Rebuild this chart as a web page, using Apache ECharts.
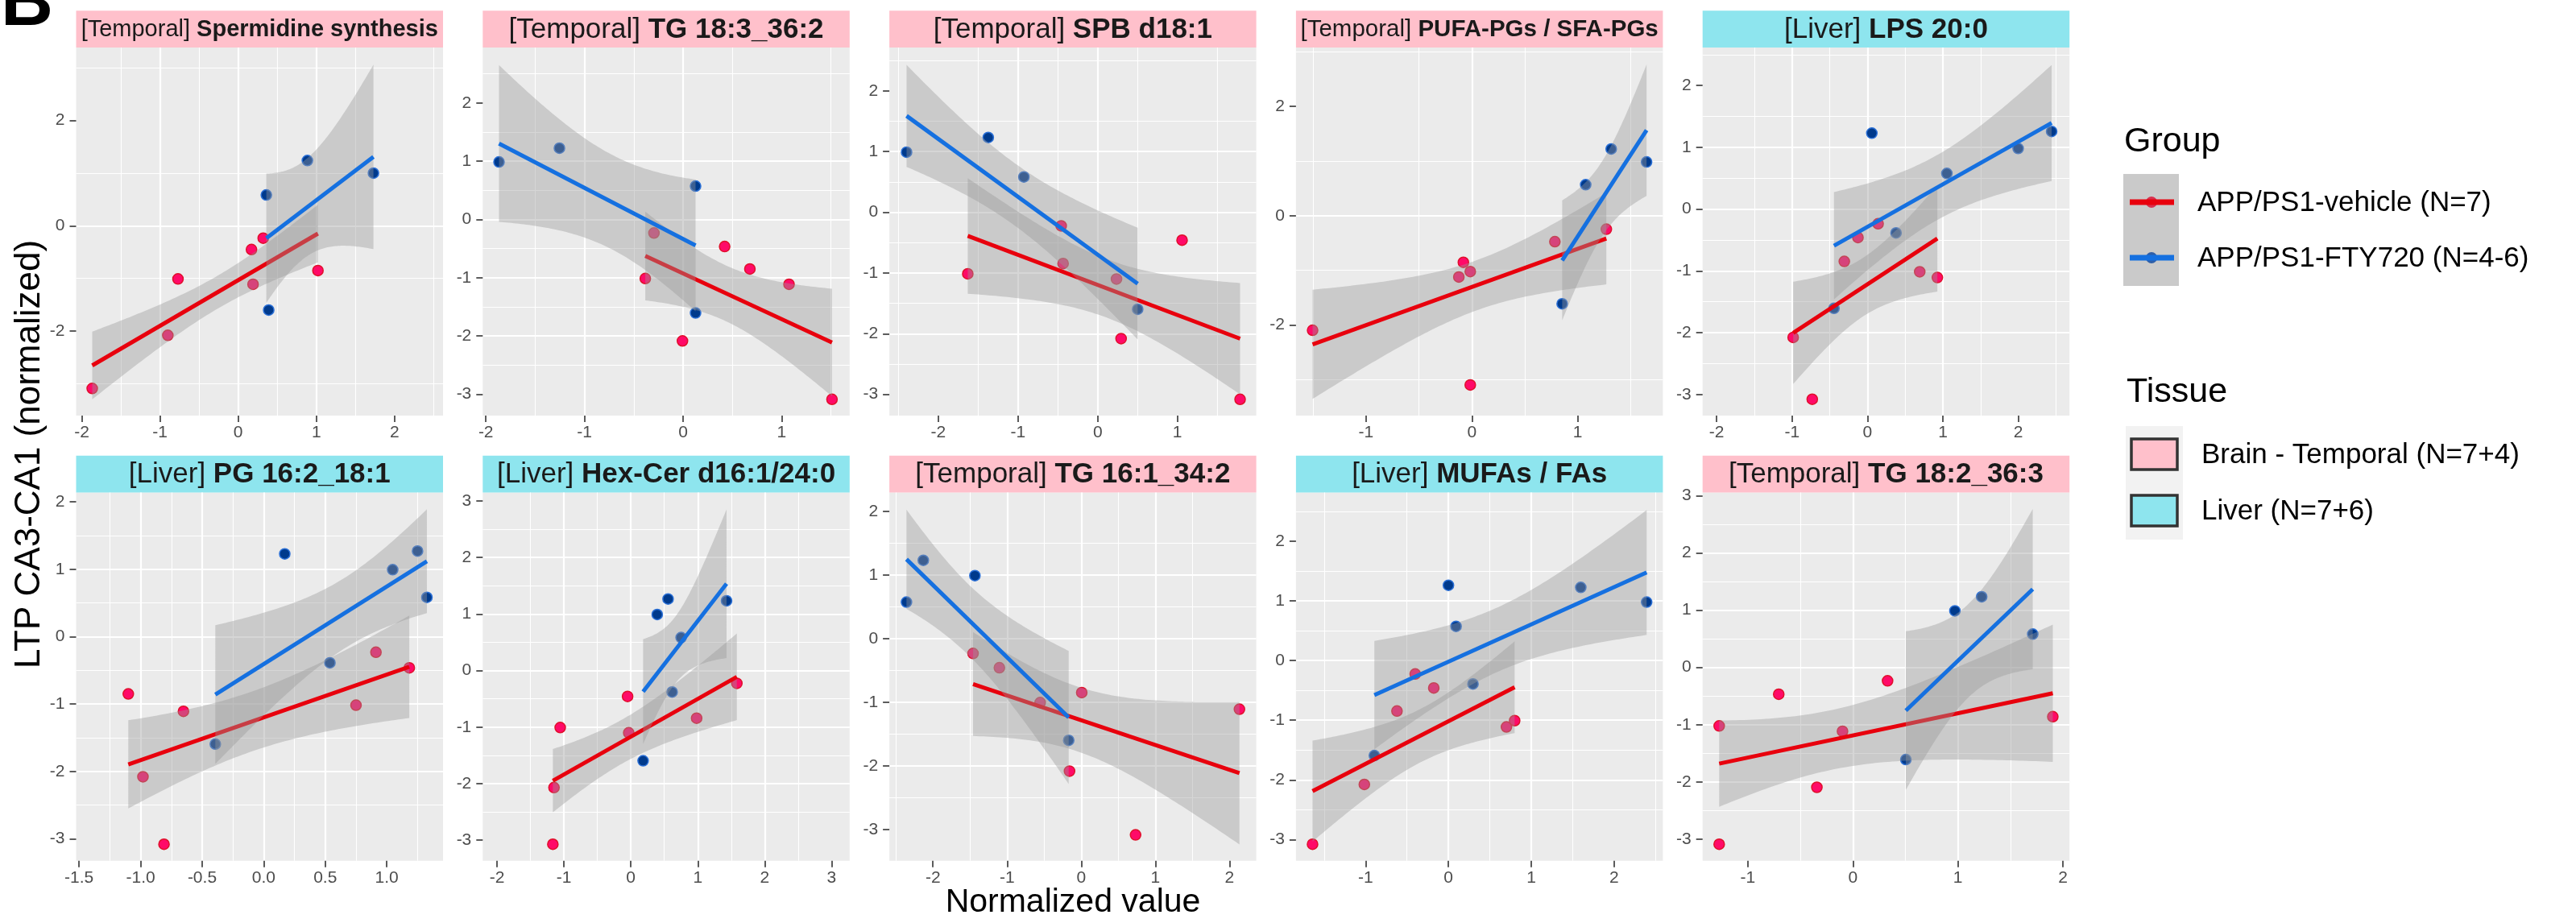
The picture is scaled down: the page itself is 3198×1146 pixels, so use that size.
<!DOCTYPE html>
<html>
<head>
<meta charset="utf-8">
<script src="https://cdn.jsdelivr.net/npm/echarts@6/dist/echarts.min.js"></script>
<style>
    html, body { margin: 0; padding: 0; background: #ffffff; }
    #chart { width: 3198px; height: 1146px; }
</style>
</head>
<body>
<div id="chart"></div>
<script>
// ---- data ----
var groupNames = ['APP/PS1-vehicle (N=7)', 'APP/PS1-FTY720 (N=4-6)'];
var tissueNames = ['Brain - Temporal (N=7+4)', 'Liver (N=7+6)'];

var panelTissue = ['Temporal', 'Temporal', 'Temporal', 'Temporal', 'Liver',
                   'Liver', 'Liver', 'Temporal', 'Liver', 'Temporal'];
var panelName = ['Spermidine synthesis', 'TG 18:3_36:2', 'SPB d18:1', 'PUFA-PGs / SFA-PGs', 'LPS 20:0',
                 'PG 16:2_18:1', 'Hex-Cer d16:1/24:0', 'TG 16:1_34:2', 'MUFAs / FAs', 'TG 18:2_36:3'];

// normalized value (x) and LTP (y), vehicle group
var vehicleX = [
    [-1.867, -0.90, -0.77, 0.17, 0.19, 0.32, 1.02],
    [-0.383, -0.295, -0.006, 0.422, 0.678, 1.075, 1.511],
    [-1.630, -0.458, -0.434, 0.236, 0.294, 1.059, 1.787],
    [-1.504, -0.123, -0.080, -0.015, -0.015, 0.784, 1.270],
    [-0.985, -0.732, -0.307, -0.126, 0.141, 0.693, 0.927],
    [-1.100, -0.981, -0.810, -0.652, 0.750, 0.912, 1.183],
    [-1.166, -1.149, -1.056, -0.049, -0.032, 0.983, 1.584],
    [-1.459, -1.104, -0.554, -0.158, 0.007, 0.733, 2.134],
    [-1.640, -1.015, -0.621, -0.401, -0.177, 0.700, 0.799],
    [-1.273, -1.273, -0.706, -0.343, -0.099, 0.330, 1.903]
];
var vehicleY = [
    [-3.09, -2.08, -1.01, -0.45, -1.11, -0.235, -0.85],
    [-1.012, -0.232, -2.083, -0.464, -0.849, -1.111, -3.085],
    [-1.014, -0.223, -0.844, -1.100, -2.081, -0.460, -3.081],
    [-2.095, -1.121, -0.853, -1.021, -3.095, -0.474, -0.247],
    [-2.076, -3.077, -0.847, -0.461, -0.237, -1.015, -1.108],
    [-0.849, -2.078, -3.079, -1.108, -1.016, -0.231, -0.462],
    [-3.071, -2.069, -1.007, -0.457, -1.101, -0.842, -0.226],
    [-0.230, -0.455, -1.003, -2.079, -0.846, -3.082, -1.106],
    [-3.079, -2.077, -0.846, -0.224, -0.459, -1.112, -1.007],
    [-1.023, -3.090, -0.468, -2.095, -1.115, -0.234, -0.860]
];
// FTY720 group
var ftyX = [
    [0.36, 0.39, 0.885, 1.73],
    [-1.867, -1.254, 0.127, 0.127],
    [-2.398, -1.373, -0.926, 0.502],
    [0.853, 1.075, 1.316, 1.650],
    [-0.444, 0.058, 0.379, 1.053, 1.998, 2.442],
    [-0.393, 0.171, 0.538, 1.048, 1.250, 1.326],
    [0.183, 0.394, 0.556, 0.617, 0.751, 1.430],
    [-2.357, -2.130, -1.434, -0.169],
    [-0.894, 0.0, 0.092, 0.296, 1.597, 2.392],
    [0.504, 0.971, 1.226, 1.712]
];
var ftyY = [
    [0.585, -1.60, 1.24, 1.0],
    [0.987, 1.224, 0.573, -1.604],
    [0.991, 1.232, 0.583, -1.597],
    [-1.611, 0.568, 1.221, 0.984],
    [-1.606, 1.229, -0.386, 0.577, 0.982, 1.257],
    [-1.593, 1.228, -0.388, 0.993, 1.270, 0.582],
    [-1.596, 0.991, 1.266, -0.380, 0.583, 1.233],
    [0.577, 1.233, 0.993, -1.595],
    [-1.592, 1.263, 0.574, -0.391, 1.227, 0.981],
    [-1.610, 0.990, 1.235, 0.582]
];

// axis ranges and break steps of each panel
var xLimits = [[-2.073, 2.620], [-2.032, 1.690], [-2.614, 1.99], [-1.661, 1.804], [-2.186, 2.679],
               [-1.524, 1.457], [-2.214, 3.270], [-2.588, 2.361], [-1.840, 2.588], [-1.431, 2.062]];
var yLimits = [[-3.607, 3.388], [-3.366, 2.952], [-3.351, 2.716], [-3.658, 3.079], [-3.343, 2.616],
               [-3.324, 2.138], [-3.363, 3.148], [-3.488, 2.299], [-3.356, 2.818], [-3.379, 3.058]];
var xStep = [1, 1, 1, 1, 1, 0.5, 1, 1, 1, 1];
var yStep = [2, 1, 1, 2, 1, 1, 1, 1, 1, 1];

// ---- look ----
var FONT = 'Liberation Sans, Arial, sans-serif';
var RED = '#E8000D', BLUE = '#1570E0';
var TISSUE_FILL = { Temporal: '#FFC0CB', Liver: '#8EE5EE' };
var stripFont = [29, 35, 35, 29.5, 35, 35, 35, 35, 35, 35];
var PANEL_W = 455.5, PANEL_H = 457.2, COL_X0 = 94.5, COL_PITCH = 504.8;
var ROW_TOP = [58.9, 611.5], STRIP_H = 45.7;
var BAND_MULT = 1.4;

function lmFit(xs, ys) {
    var n = xs.length, mx = 0, my = 0, sxx = 0, sxy = 0, sse = 0, i;
    for (i = 0; i < n; i++) { mx += xs[i] / n; my += ys[i] / n; }
    for (i = 0; i < n; i++) {
        sxx += (xs[i] - mx) * (xs[i] - mx);
        sxy += (xs[i] - mx) * (ys[i] - my);
    }
    var b = sxy / sxx, a = my - b * mx;
    for (i = 0; i < n; i++) sse += Math.pow(ys[i] - a - b * xs[i], 2);
    return {
        a: a, b: b, n: n, mx: mx, sxx: sxx, s: Math.sqrt(sse / (n - 2)),
        xmin: Math.min.apply(null, xs), xmax: Math.max.apply(null, xs)
    };
}

function fitLine(f) {
    return [[f.xmin, f.a + f.b * f.xmin], [f.xmax, f.a + f.b * f.xmax]];
}

function fitBand(f) {
    var out = [];
    for (var k = 0; k < 80; k++) {
        var x = f.xmin + (f.xmax - f.xmin) * k / 79;
        var yh = f.a + f.b * x;
        var se = f.s * Math.sqrt(1 / f.n + (x - f.mx) * (x - f.mx) / f.sxx);
        out.push([x, yh - BAND_MULT * se, yh + BAND_MULT * se]);
    }
    return out;
}

function ribbon(band) {
    return function (params, api) {
        if (params.dataIndex !== 0) return null;
        var pts = [], k;
        for (k = 0; k < band.length; k++) pts.push(api.coord([band[k][0], band[k][2]]));
        for (k = band.length - 1; k >= 0; k--) pts.push(api.coord([band[k][0], band[k][1]]));
        return {
            type: 'polygon',
            shape: { points: echarts.graphic.clipPointsByRect(pts, params.coordSys) },
            style: { fill: 'rgba(153,153,153,0.4)' },
            silent: true
        };
    };
}

function breaks(lim, step) {
    var out = [];
    for (var v = Math.ceil(lim[0] / step - 1e-9) * step; v <= lim[1] + 1e-9; v += step) {
        out.push(+v.toFixed(6));
    }
    return out;
}

function makeAxis(idx, lim, step, isX) {
    var ticks = breaks(lim, step);
    return {
        gridIndex: idx,
        type: 'value',
        min: lim[0],
        max: lim[1],
        minInterval: step,
        maxInterval: step,
        splitNumber: 5,
        axisLine: { show: false, onZero: false },
        axisTick: { show: true, length: 8, customValues: ticks, lineStyle: { color: '#333333', width: 1.6 } },
        axisLabel: {
            margin: isX ? 11 : 14,
            color: '#4D4D4D',
            fontSize: 21,
            fontFamily: FONT,
            customValues: ticks,
            formatter: function (v) {
                if (Math.abs(v / step - Math.round(v / step)) > 1e-6) return '';
                return step < 1 ? v.toFixed(1) : String(Math.round(v));
            }
        },
        splitLine: { show: true, showMinLine: false, showMaxLine: false, lineStyle: { color: '#ffffff', width: 2.2 } },
        minorTick: { show: false, splitNumber: 2 },
        minorSplitLine: { show: true, lineStyle: { color: '#ffffff', width: 1.1 } }
    };
}

var grids = [], xAxes = [], yAxes = [], seriesList = [], graphics = [];

for (var p = 0; p < 10; p++) {
    var col = p % 5, row = Math.floor(p / 5);
    var panelLeft = COL_X0 + col * COL_PITCH, panelTop = ROW_TOP[row];

    grids.push({
        left: panelLeft, top: panelTop, width: PANEL_W, height: PANEL_H,
        show: true, backgroundColor: '#EBEBEB', borderWidth: 0, containLabel: false
    });
    xAxes.push(makeAxis(p, xLimits[p], xStep[p], true));
    yAxes.push(makeAxis(p, yLimits[p], yStep[p], false));

    var vehPts = vehicleX[p].map(function (x, k) { return [x, vehicleY[p][k]]; });
    var ftyPts = ftyX[p].map(function (x, k) { return [x, ftyY[p][k]]; });
    var vehFit = lmFit(vehicleX[p], vehicleY[p]);
    var ftyFit = lmFit(ftyX[p], ftyY[p]);
    var vehBand = fitBand(vehFit), ftyBand = fitBand(ftyFit);

    seriesList.push({
        name: groupNames[0], type: 'scatter', xAxisIndex: p, yAxisIndex: p, z: 1,
        symbolSize: 13, data: vehPts,
        itemStyle: { color: '#FF0A68', borderColor: '#E0102A', borderWidth: 1.5, opacity: 1 }
    });
    seriesList.push({
        name: groupNames[1], type: 'scatter', xAxisIndex: p, yAxisIndex: p, z: 1,
        symbolSize: 13, data: ftyPts,
        itemStyle: { color: '#003A8C', borderColor: '#2A6FD6', borderWidth: 1.5, opacity: 1 }
    });
    seriesList.push({
        type: 'custom', xAxisIndex: p, yAxisIndex: p, z: 2, silent: true,
        data: vehBand, encode: { x: 0, y: [1, 2] }, renderItem: ribbon(vehBand)
    });
    seriesList.push({
        name: groupNames[0], type: 'line', xAxisIndex: p, yAxisIndex: p, z: 3, silent: true,
        data: fitLine(vehFit), showSymbol: false, lineStyle: { color: RED, width: 5 }
    });
    seriesList.push({
        type: 'custom', xAxisIndex: p, yAxisIndex: p, z: 4, silent: true,
        data: ftyBand, encode: { x: 0, y: [1, 2] }, renderItem: ribbon(ftyBand)
    });
    seriesList.push({
        name: groupNames[1], type: 'line', xAxisIndex: p, yAxisIndex: p, z: 5, silent: true,
        data: fitLine(ftyFit), showSymbol: false, lineStyle: { color: BLUE, width: 5 }
    });

    // facet strip
    graphics.push({
        type: 'rect', silent: true,
        shape: { x: panelLeft, y: panelTop - STRIP_H, width: PANEL_W, height: STRIP_H },
        style: { fill: TISSUE_FILL[panelTissue[p]] }
    });
    graphics.push({
        type: 'text', silent: true, x: panelLeft + PANEL_W / 2, y: panelTop - STRIP_H / 2 + 1,
        style: {
            text: '{n|[' + panelTissue[p] + '] }{b|' + panelName[p] + '}',
            align: 'center', verticalAlign: 'middle',
            fontSize: stripFont[p], fontFamily: FONT, fill: '#1A1A1A',
            rich: {
                n: { fontSize: stripFont[p], fontFamily: FONT, fontWeight: 'normal', fill: '#1A1A1A' },
                b: { fontSize: stripFont[p], fontFamily: FONT, fontWeight: 'bold', fill: '#1A1A1A' }
            }
        }
    });
}

// panel letter and axis titles
graphics.push({
    type: 'text', silent: true, x: 1, y: 6,
    style: { text: 'B', fontSize: 90, fontWeight: 'bold', fontFamily: FONT, fill: '#000',
             align: 'left', verticalAlign: 'middle' }
});
graphics.push({
    type: 'text', silent: true, x: 37, y: 564, rotation: Math.PI / 2,
    style: { text: 'LTP CA3-CA1 (normalized)', fontSize: 44, fontFamily: FONT, fill: '#000',
             align: 'center', verticalAlign: 'middle' }
});
graphics.push({
    type: 'text', silent: true, x: 1332, y: 1121,
    style: { text: 'Normalized value', fontSize: 41, fontFamily: FONT, fill: '#000',
             align: 'center', verticalAlign: 'middle' }
});

// legend: Group
graphics.push({
    type: 'text', silent: true, x: 2637, y: 176,
    style: { text: 'Group', fontSize: 43, fontFamily: FONT, fill: '#000', align: 'left', verticalAlign: 'middle' }
});
graphics.push({
    type: 'rect', silent: true, shape: { x: 2636, y: 216, width: 69, height: 139 },
    style: { fill: '#CACACA' }
});
[[RED, '#D8304E', 251], [BLUE, '#2F5FA8', 320]].forEach(function (k, j) {
    graphics.push({ type: 'circle', silent: true, shape: { cx: 2671, cy: k[2], r: 7 }, style: { fill: k[1] } });
    graphics.push({
        type: 'line', silent: true, shape: { x1: 2644, y1: k[2], x2: 2699, y2: k[2] },
        style: { stroke: k[0], lineWidth: 7 }
    });
    graphics.push({
        type: 'text', silent: true, x: 2728, y: k[2] + 1,
        style: { text: groupNames[j], fontSize: 35, fontFamily: FONT, fill: '#000', align: 'left', verticalAlign: 'middle' }
    });
});

// legend: Tissue
graphics.push({
    type: 'text', silent: true, x: 2640, y: 487,
    style: { text: 'Tissue', fontSize: 43, fontFamily: FONT, fill: '#000', align: 'left', verticalAlign: 'middle' }
});
graphics.push({
    type: 'rect', silent: true, shape: { x: 2639, y: 529, width: 71, height: 141 },
    style: { fill: '#F2F2F2' }
});
[['Temporal', 545], ['Liver', 615]].forEach(function (k, j) {
    graphics.push({
        type: 'rect', silent: true, shape: { x: 2646, y: k[1], width: 57, height: 38 },
        style: { fill: TISSUE_FILL[k[0]], stroke: '#333333', lineWidth: 3.5 }
    });
    graphics.push({
        type: 'text', silent: true, x: 2733, y: k[1] + 20,
        style: { text: tissueNames[j], fontSize: 35, fontFamily: FONT, fill: '#000', align: 'left', verticalAlign: 'middle' }
    });
});

var chart = echarts.init(document.getElementById('chart'), null, { renderer: 'canvas' });
chart.setOption({
    backgroundColor: '#ffffff',
    animation: false,
    textStyle: { fontFamily: FONT },
    grid: grids,
    xAxis: xAxes,
    yAxis: yAxes,
    series: seriesList,
    graphic: graphics
});
window.addEventListener('resize', function () {
    chart.resize();
});
</script>
</body>
</html>
